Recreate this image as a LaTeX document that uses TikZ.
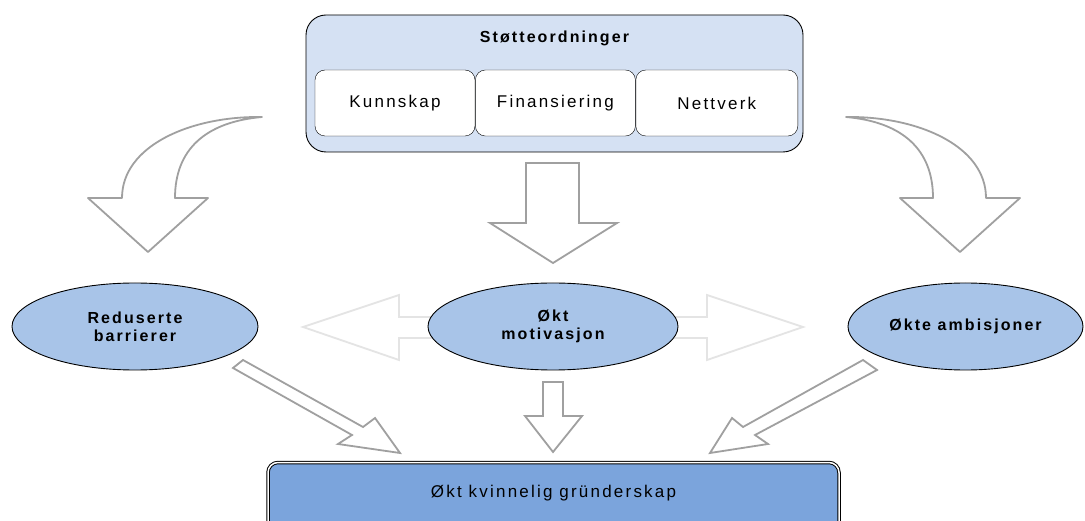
\documentclass[tikz,border=0pt]{standalone}
\usepackage{fontspec}
\setmainfont{Liberation Sans}[LetterSpace=13]
\usepackage{tikz}
\usepackage{xcolor}
\definecolor{boxblue}{RGB}{213, 225, 243}
\definecolor{ellblue}{RGB}{168, 196, 232}
\definecolor{mainblue}{RGB}{123, 164, 220}
\definecolor{arrowgray}{RGB}{160, 160, 160}
\definecolor{fadegray}{RGB}{228, 228, 228}
\usetikzlibrary{shapes.geometric,calc,positioning}

\tikzset{
    partbox/.style={draw, fill=white, rounded corners=10pt, minimum width=160pt, minimum height=66pt, font=\fontsize{17}{19}\selectfont},
    effect/.style={ellipse, draw, line width=0.9pt, fill=ellblue, minimum height=87pt, inner sep=0pt, align=center, font=\fontsize{16}{18}\selectfont\bfseries},
    blockarrow/.style={draw=arrowgray, line width=1.8pt, fill=white, line join=round},
    fadearrow/.style={draw=fadegray, line width=1.8pt, fill=white}
}

\begin{document}
\begin{tikzpicture}[x=1pt, y=-1pt]
    \clip (0, 0) rectangle (1085, 521);
    \fill[white] (0, 0) rectangle (1085, 521);

    % Support schemes (top)
    \node[draw, line width=0.9pt, fill=boxblue, rounded corners=20pt, minimum width=497pt, minimum height=137pt] (support) at (554.5, 83.5) {};
    \node[font=\fontsize{16}{18}\selectfont\bfseries] (title) at (554.5, 38) {Støtteordninger};
    \node[partbox] (kunnskap) at (395, 103) {Kunnskap};
    \node[partbox, right=0pt of kunnskap] (finans) {Finansiering};
    \node[partbox, minimum width=162pt, right=0pt of finans] (nettverk) {Nettverk};

    % Curved arrows to the sides
    \foreach \s in {1, -1} {
        \begin{scope}[shift={(554, 0)}, xscale=\s]
            \draw[blockarrow]
                (-292, 117) .. controls (-364, 116) and (-432, 146) .. (-432, 198)
                -- (-466, 198) -- (-406, 252) -- (-346, 198) -- (-379, 198)
                .. controls (-379, 150) and (-349, 122) .. (-292, 117) -- cycle;
        \end{scope}
    }

    % Straight arrow down the middle
    \draw[blockarrow, line join=miter] (526, 163) -- (579, 163) -- (579, 223) -- (617, 223)
        -- (553, 263) -- (490, 223) -- (526, 223) -- cycle;

    % Faint double arrow behind the middle effect
    \draw[fadearrow] (303, 327) -- (399, 295) -- (399, 317) -- (707, 317) -- (707, 295)
        -- (803, 327) -- (707, 360) -- (707, 338) -- (399, 338) -- (399, 360) -- cycle;

    % Effects
    \node[effect, minimum width=246pt] (barrierer) at (135, 326.5) {Reduserte\\barrierer};
    \node[effect, minimum width=250pt] (motivasjon) at (553, 326.5) {Økt\\motivasjon};
    \node[effect, minimum width=235pt] (ambisjoner) at (965.5, 326.5) {Økte ambisjoner};

    % Arrows into the result
    \draw[blockarrow, line join=miter] (243, 360) -- (363, 427) -- (375, 418) -- (400, 453)
        -- (338, 444) -- (352, 435) -- (233, 368) -- cycle;
    \draw[blockarrow, line join=miter] (543, 382) -- (563, 382) -- (563, 416) -- (582, 416)
        -- (553, 452) -- (525, 416) -- (543, 416) -- cycle;
    \draw[blockarrow, line join=miter] (863, 360) -- (877, 370) -- (755, 435) -- (768, 444)
        -- (710, 453) -- (732, 418) -- (743, 427) -- cycle;

    % Result
    \node[draw=black, line width=1pt, double=white, double distance=1.5pt, fill=mainblue, rounded corners=10pt, minimum width=571pt, minimum height=80pt, anchor=north] (grunder) at (553.5, 462) {};
    \node[font=\fontsize{17}{19}\selectfont] (grundertext) at ($(grunder.north)+(0, 31)$) {Økt kvinnelig gründerskap};
\end{tikzpicture}
\end{document}
